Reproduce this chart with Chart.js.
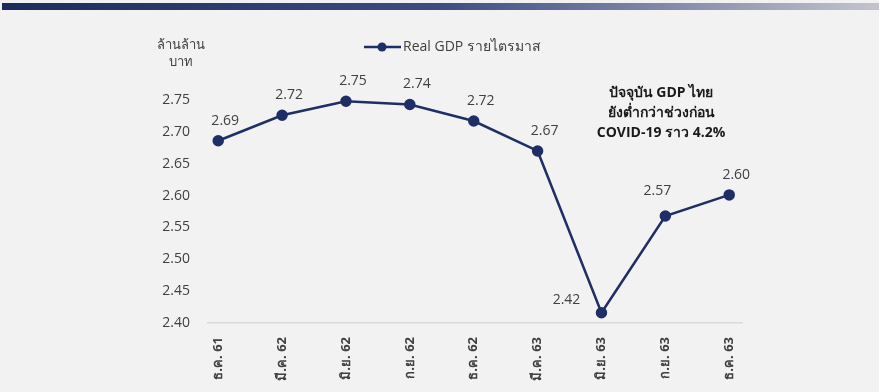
<!DOCTYPE html>
<html>
<head>
<meta charset="utf-8">
<script src="https://cdn.jsdelivr.net/npm/chart.js@4/dist/chart.umd.min.js"></script>
<style>
  html, body { margin: 0; padding: 0; background: #f2f2f2; }
  #wrap { width: 879px; height: 392px; position: relative; }
</style>
</head>
<body>
<div id="wrap"><canvas id="c" width="879" height="392"></canvas></div>
<script>
// ---- data ----
const categories = ['ธ.ค. 61', 'มี.ค. 62', 'มิ.ย. 62', 'ก.ย. 62', 'ธ.ค. 62', 'มี.ค. 63', 'มิ.ย. 63', 'ก.ย. 63', 'ธ.ค. 63'];
const gdpValues = [2.686, 2.726, 2.748, 2.743, 2.717, 2.670, 2.416, 2.568, 2.601];
const gdpLabels = ['2.69', '2.72', '2.75', '2.74', '2.72', '2.67', '2.42', '2.57', '2.60'];
const labelSide = ['above', 'above', 'above', 'above', 'above', 'above', 'left', 'aboveLeft', 'above'];
const yTicks = [2.40, 2.45, 2.50, 2.55, 2.60, 2.65, 2.70, 2.75];
const seriesName = 'Real GDP รายไตรมาส';
const yUnit = ['ล้านล้าน', 'บาท'];
const note = ['ปัจจุบัน GDP ไทย', 'ยังต่ำกว่าช่วงก่อน', 'COVID-19 ราว 4.2%'];

const FONT = "'Open Sans', 'Noto Sans', 'Liberation Sans', sans-serif";
const NAVY = '#1f2f66';
const TXT = '#404040';

const decor = {
  id: 'decor',
  beforeDraw(chart) {
    const ctx = chart.ctx;
    ctx.save();
    ctx.fillStyle = '#f2f2f2';
    ctx.fillRect(0, 0, chart.width, chart.height);
    const g = ctx.createLinearGradient(2, 0, 879, 0);
    g.addColorStop(0, '#1e2a5a');
    g.addColorStop(0.5, '#3e4c82');
    g.addColorStop(1, '#c3c4cc');
    ctx.fillStyle = g;
    ctx.fillRect(2, 3, 877, 7);
    ctx.restore();
  },
  afterDatasetsDraw(chart) {
    const ctx = chart.ctx;
    const meta = chart.getDatasetMeta(0);
    ctx.save();
    ctx.font = '14px ' + FONT;
    ctx.fillStyle = TXT;
    ctx.textBaseline = 'middle';
    ctx.textAlign = 'center';
    meta.data.forEach((pt, i) => {
      let x = pt.x, y = pt.y;
      const s = labelSide[i];
      if (s === 'above') { x += 7; y -= 20; }
      else if (s === 'aboveLeft') { x -= 8; y -= 25; }
      else if (s === 'left') { x -= 35; y -= 13; }
      ctx.fillText(gdpLabels[i], x, y);
    });
    // y unit
    ctx.font = '13px ' + FONT;
    ctx.fillText(yUnit[0], 181, 45);
    ctx.fillText(yUnit[1], 181, 62);
    // legend
    ctx.strokeStyle = NAVY;
    ctx.lineWidth = 2.5;
    ctx.beginPath();
    ctx.moveTo(364, 47); ctx.lineTo(401, 47); ctx.stroke();
    ctx.fillStyle = NAVY;
    ctx.beginPath(); ctx.arc(382, 47, 4.5, 0, Math.PI * 2); ctx.fill();
    ctx.fillStyle = TXT;
    ctx.textAlign = 'left';
    ctx.font = '14px ' + FONT;
    ctx.fillText(seriesName, 403, 47);
    // note
    ctx.textAlign = 'center';
    ctx.fillStyle = '#1a1a1a';
    ctx.font = 'bold 14px ' + FONT;
    note.forEach((t, i) => ctx.fillText(t, 661, 93 + i * 20));
    ctx.restore();
  }
};

new Chart(document.getElementById('c'), {
  type: 'line',
  data: {
    datasets: [{
      label: seriesName,
      data: gdpValues.map((v, i) => ({ x: i, y: v })),
      borderColor: NAVY,
      backgroundColor: NAVY,
      borderWidth: 2.5,
      pointRadius: 4.5,
      pointHoverRadius: 4.5,
      pointBackgroundColor: NAVY,
      pointBorderColor: NAVY,
      tension: 0,
      clip: false
    }]
  },
  options: {
    responsive: false,
    animation: false,
    events: [],
    layout: { padding: { top: 100, right: 137, left: 0, bottom: 0 } },
    plugins: { legend: { display: false }, tooltip: { enabled: false } },
    scales: {
      x: {
        type: 'linear',
        min: -0.16,
        max: 8.2,
        afterBuildTicks(scale) { scale.ticks = categories.map((c, i) => ({ value: i })); },
        afterFit(scale) { scale.height = 69; },
        grid: { display: false },
        border: { display: true, color: '#d9d9d9', width: 1.5 },
        ticks: {
          autoSkip: false,
          minRotation: 90,
          maxRotation: 90,
          padding: 6,
          color: TXT,
          font: { family: FONT, size: 13, weight: 'bold' },
          callback: (v) => categories[v]
        }
      },
      y: {
        min: 2.40,
        max: 2.75,
        afterBuildTicks(scale) { scale.ticks = yTicks.map(v => ({ value: v })); },
        afterFit(scale) { scale.width = 208; },
        grid: { display: false },
        border: { display: false },
        ticks: {
          padding: 10,
          color: TXT,
          font: { family: FONT, size: 14 },
          callback: (v) => Number(v).toFixed(2)
        }
      }
    }
  },
  plugins: [decor]
});
</script>
</body>
</html>
